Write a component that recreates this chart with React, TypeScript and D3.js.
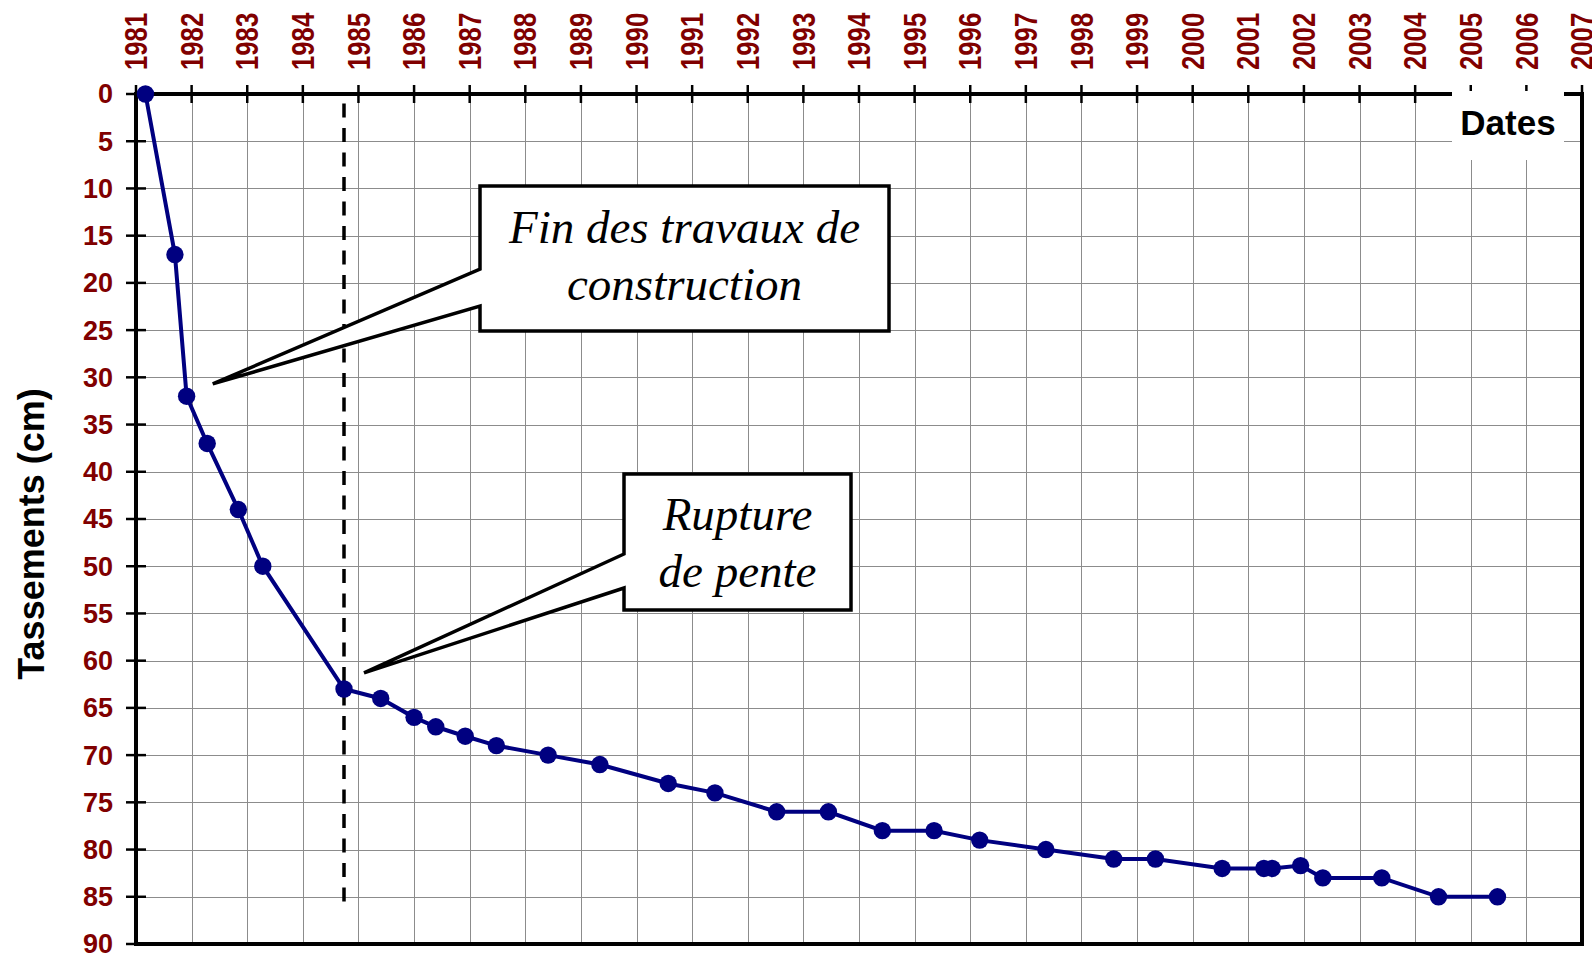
import React from "react";
import * as d3 from "d3";

// ---- data ----
const dates = [
  1981.17, 1981.7, 1981.91, 1982.28, 1982.84, 1983.28, 1984.74, 1985.4, 1986.0, 1986.39,
  1986.92, 1987.48, 1988.41, 1989.34, 1990.57, 1991.41, 1992.52, 1993.45, 1994.42, 1995.35,
  1996.17, 1997.36, 1998.58, 1999.33, 2000.53, 2001.28, 2001.43, 2001.94, 2002.34, 2003.4,
  2004.42, 2005.48,
];
const settlements = [
  0, 17, 32, 37, 44, 50, 63, 64, 66, 67, 68, 69, 70, 71, 73, 74, 76, 76, 78, 78, 79, 80, 81,
  81, 82, 82, 82, 81.7, 83, 83, 85, 85,
];
const yearTicks = d3.range(1981, 2008);
const settlementTicks = d3.range(0, 95, 5);
const endOfWorksDate = 1984.74;
const dashedRange = [1, 85.7];

const callout1Lines = ["Fin des travaux de", "construction"];
const callout1Tip = { date: 1982.38, value: 30.7 };
const callout2Lines = ["Rupture", "de pente"];
const callout2Tip = { date: 1985.1, value: 61.3 };

const yTitle = "Tassements (cm)";
const xTitle = "Dates";

// ---- layout ----
const W = 1592;
const H = 955;
const left = 136;
const right = 1582;
const top = 94;
const bottom = 944;
const RED = "#800000";
const NAVY = "#000080";
const SANS = "'Liberation Sans', Arial, sans-serif";
const SERIF = "'Liberation Serif', 'Times New Roman', serif";

export default function App() {
  const x = d3.scaleLinear().domain([1981, 2007]).range([left, right]);
  const y = d3.scaleLinear().domain([0, 90]).range([top, bottom]);
  const pts = dates.map((d, i) => [d, settlements[i]] as [number, number]);
  const line = d3
    .line<[number, number]>()
    .x((d) => x(d[0]))
    .y((d) => y(d[1]));

  const t1x = x(callout1Tip.date);
  const t1y = y(callout1Tip.value);
  const t2x = x(callout2Tip.date);
  const t2y = y(callout2Tip.value);

  const box1 = { x0: 480, x1: 889, y0: 186, y1: 331, a: 269, b: 306 };
  const box2 = { x0: 624, x1: 851, y0: 474, y1: 610, a: 554, b: 588 };

  const calloutPath = (b: typeof box1, tx: number, ty: number) =>
    `M${b.x0},${b.y0}H${b.x1}V${b.y1}H${b.x0}V${b.b}L${tx},${ty}L${b.x0},${b.a}Z`;

  return (
    <svg
      width={W}
      height={H}
      style={{ position: "absolute", left: 0, top: 0, background: "#fff" }}
    >
      <rect x={0} y={0} width={W} height={H} fill="#fff" />
      {/* grid */}
      {yearTicks.slice(1, -1).map((t) => (
        <line
          key={"gx" + t}
          x1={Math.round(x(t)) + 0.5}
          x2={Math.round(x(t)) + 0.5}
          y1={top}
          y2={bottom}
          stroke="#8c8c8c"
          strokeWidth={1}
        />
      ))}
      {settlementTicks.slice(1, -1).map((t) => (
        <line
          key={"gy" + t}
          x1={left}
          x2={right}
          y1={Math.round(y(t)) + 0.5}
          y2={Math.round(y(t)) + 0.5}
          stroke="#8c8c8c"
          strokeWidth={1}
        />
      ))}
      {/* frame */}
      <line x1={left} x2={right} y1={bottom} y2={bottom} stroke="#000" strokeWidth={4} />
      <line x1={right} x2={right} y1={top} y2={bottom + 2} stroke="#000" strokeWidth={4} />
      <line x1={left} x2={left} y1={top - 2} y2={bottom + 2} stroke="#000" strokeWidth={4} />
      <line x1={left} x2={right + 2} y1={top} y2={top} stroke="#000" strokeWidth={4} />
      {/* top ticks */}
      {yearTicks.map((t) => (
        <line
          key={"tx" + t}
          x1={x(t)}
          x2={x(t)}
          y1={top - 9}
          y2={top + 9}
          stroke="#000"
          strokeWidth={2.5}
        />
      ))}
      {/* left ticks */}
      {settlementTicks.map((t) => (
        <line
          key={"ty" + t}
          x1={left - 10}
          x2={left + 10}
          y1={y(t)}
          y2={y(t)}
          stroke="#000"
          strokeWidth={2.5}
        />
      ))}
      {/* top tick labels */}
      {yearTicks.map((t) => (
        <text
          key={"lx" + t}
          transform={`translate(${x(t)},70) rotate(-90) scale(0.83,1)`}
          dy="0.36em"
          textAnchor="start"
          fontFamily={SANS}
          fontWeight="bold"
          fontSize={31}
          fill={RED}
        >
          {t}
        </text>
      ))}
      {/* left tick labels */}
      {settlementTicks.map((t) => (
        <text
          key={"ly" + t}
          x={113}
          y={y(t)}
          dy="0.35em"
          textAnchor="end"
          fontFamily={SANS}
          fontWeight="bold"
          fontSize={27}
          fill={RED}
        >
          {t}
        </text>
      ))}
      {/* y title */}
      <text
        transform={`translate(31,534) rotate(-90)`}
        dy="0.36em"
        textAnchor="middle"
        fontFamily={SANS}
        fontWeight="bold"
        fontSize={36}
        fill="#000"
      >
        {yTitle}
      </text>
      {/* Dates label */}
      <rect x={1452} y={91} width={112} height={69} fill="#fff" />
      <text
        x={1508}
        y={135}
        textAnchor="middle"
        fontFamily={SANS}
        fontWeight="bold"
        fontSize={35}
        fill="#000"
      >
        {xTitle}
      </text>
      {/* dashed end-of-works line */}
      <line
        x1={x(endOfWorksDate)}
        x2={x(endOfWorksDate)}
        y1={y(dashedRange[0])}
        y2={y(dashedRange[1])}
        stroke="#000"
        strokeWidth={3.5}
        strokeDasharray="14 10.5"
      />
      {/* series */}
      <path d={line(pts) || ""} fill="none" stroke={NAVY} strokeWidth={4} />
      {pts.map((p, i) => (
        <circle key={"p" + i} cx={x(p[0])} cy={y(p[1])} r={8.7} fill={NAVY} />
      ))}
      {/* callouts */}
      <path
        d={calloutPath(box1, t1x, t1y)}
        fill="#fff"
        stroke="#000"
        strokeWidth={3.5}
        strokeLinejoin="miter"
      />
      {callout1Lines.map((s, i) => (
        <text
          key={"c1" + i}
          x={(box1.x0 + box1.x1) / 2}
          y={243 + i * 57}
          textAnchor="middle"
          fontFamily={SERIF}
          fontStyle="italic"
          fontSize={47}
          fill="#000"
        >
          {s}
        </text>
      ))}
      <path
        d={calloutPath(box2, t2x, t2y)}
        fill="#fff"
        stroke="#000"
        strokeWidth={3.5}
        strokeLinejoin="miter"
      />
      {callout2Lines.map((s, i) => (
        <text
          key={"c2" + i}
          x={(box2.x0 + box2.x1) / 2}
          y={530 + i * 57}
          textAnchor="middle"
          fontFamily={SERIF}
          fontStyle="italic"
          fontSize={47}
          fill="#000"
        >
          {s}
        </text>
      ))}
    </svg>
  );
}
